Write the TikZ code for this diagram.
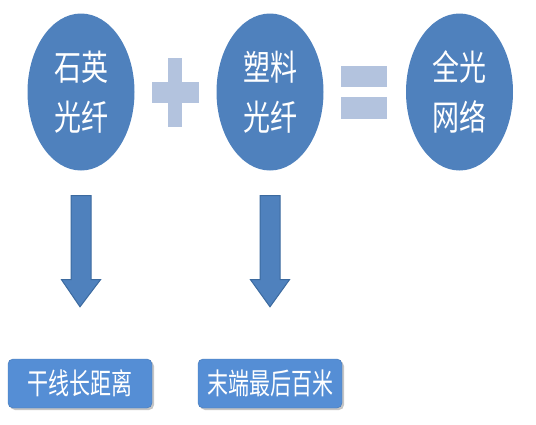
\documentclass[tikz,border=0pt]{standalone}
\usepackage{fontspec}
\usepackage{graphicx}
\usepackage{xcolor}
\newfontfamily\cjk{Noto Sans CJK SC}
\newcommand{\tall}[2][1.3]{\scalebox{1}[#1]{#2}}
\usetikzlibrary{shapes.geometric,shadows,positioning,calc}
\definecolor{fiberblue}{HTML}{4F81BD}
\definecolor{fiberedge}{HTML}{3C6A9F}
\definecolor{signgray}{HTML}{B3C3DE}
\definecolor{boxblue}{HTML}{558ED5}

\begin{document}
\begin{tikzpicture}[x=1pt,y=-1pt,
  fiber/.style={ellipse,fill=fiberblue,inner sep=0pt,minimum width=107pt,
    minimum height=157pt,text=white,align=center,
    font=\cjk\fontsize{27}{50}\selectfont},
  usebox/.style={rectangle,rounded corners=5pt,fill=boxblue,draw=boxblue!85!black,
    minimum width=144pt,minimum height=49pt,inner sep=0pt,text=white,
    font=\cjk\fontsize{21}{24}\selectfont,
    drop shadow={shadow xshift=2pt,shadow yshift=-2pt,fill=black!45}},
  sign/.style={fill=signgray},
  bigarrow/.style={fill=fiberblue,draw=fiberedge,line width=1pt,line join=miter}]
\useasboundingbox (0,0) rectangle (536,424);
\node[fiber] (quartz)  at (81,92)    {\tall{石英}\\\tall{光纤}};
\node[fiber] (plastic) at (270,92)   {\tall{塑料}\\\tall{光纤}};
\node[fiber] (net)     at (459.5,92) {\tall{全光}\\\tall{网络}};
% plus and equals
\fill[sign] (168,58) rectangle (182,127);
\fill[sign] (152,82) rectangle (199,103);
\fill[sign] (341,66) rectangle (387,87);
\fill[sign] (341,97) rectangle (387,119);
\node[usebox] (trunk) at (80,383.5)  {\tall[1.4]{干线长距离}};
\node[usebox] (last)  at (270,383.5) {\tall[1.4]{末端最后百米}};
\foreach \a/\b in {quartz/trunk, plastic/last}
  \draw[bigarrow] ($(\a.south)+(-10,25)$) -- ($(\a.south)+(10,25)$)
    -- ($(\a.south)+(10,109)$) -- ($(\a.south)+(19.5,109)$)
    -- ($(\b.north)+(0,-52)$) -- ($(\a.south)+(-19.5,109)$)
    -- ($(\a.south)+(-10,109)$) -- cycle;
\end{tikzpicture}
\end{document}
